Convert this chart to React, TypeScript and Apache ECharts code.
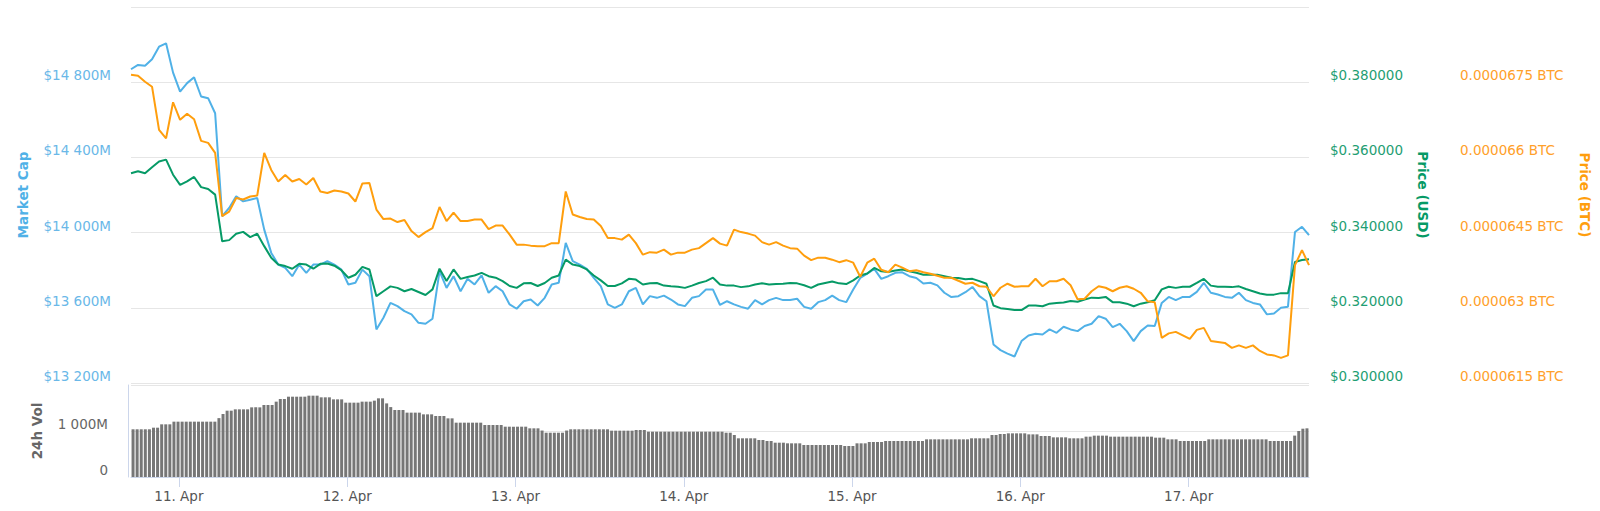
import React, { useEffect, useRef } from "react";
import * as echarts from "echarts";

// ---- time frame ----
const START = new Date(2019, 3, 10, 17, 10).getTime();
const HOUR = 3600 * 1000;
const VOL_STEP = 35 * 60 * 1000;
const END = START + 168 * HOUR;

const dayNumbers = [11, 12, 13, 14, 15, 16, 17];
const dayLabels = ["11. Apr", "12. Apr", "13. Apr", "14. Apr", "15. Apr", "16. Apr", "17. Apr"];

// ---- hourly series (10 Apr 17:10 -> 17 Apr 17:10) ----
// Market cap, millions USD
const marketCap = [
  14869, 14892, 14887, 14922, 14989, 15007, 14851, 14750, 14795, 14826, 14724, 14715, 14635,
  14087, 14131, 14193, 14166, 14175, 14184, 14016, 13892, 13830, 13812, 13768, 13830,
  13786, 13830, 13830, 13848, 13830, 13803, 13724, 13733, 13803, 13768,
  13485, 13547, 13626, 13609, 13582, 13565, 13520,
  13515,
  13542, 13795, 13706, 13768, 13688, 13754, 13724, 13772, 13680, 13715, 13688, 13618,
  13595, 13635, 13644, 13612, 13653, 13724, 13733, 13945, 13848, 13830,
  13807, 13759, 13715, 13618, 13600, 13618, 13688, 13706, 13618, 13662,
  13653, 13665, 13644, 13618, 13609, 13653, 13662, 13697, 13697, 13615,
  13635, 13618, 13605, 13595, 13641, 13618, 13641, 13653, 13641, 13641,
  13648, 13605, 13595, 13630, 13641, 13665, 13641, 13630, 13697, 13759,
  13782, 13807, 13754, 13768, 13786, 13789, 13768, 13759, 13729, 13733,
  13719, 13680, 13657, 13662, 13683, 13711, 13662, 13635, 13405, 13375,
  13356, 13341, 13423, 13453, 13462, 13458, 13485, 13467, 13499, 13485,
  13476, 13503, 13515, 13556, 13542, 13497, 13515, 13476, 13423, 13476,
  13506, 13503, 13626, 13658, 13641, 13658, 13658, 13685, 13733, 13680,
  13671, 13658, 13653, 13680, 13641, 13626, 13618, 13565, 13570, 13600,
  13606, 14003, 14031, 13987,
];

// Price in USD
const priceUsd = [
  0.3558, 0.3563, 0.3558, 0.3574, 0.3589, 0.3594, 0.3554, 0.3527, 0.3536, 0.3548, 0.3521, 0.3516, 0.3501,
  0.3377, 0.338, 0.3397, 0.3402, 0.3388, 0.3397, 0.3364, 0.3333, 0.3315, 0.3311, 0.3304, 0.3317,
  0.3315, 0.3304, 0.3317, 0.3318, 0.3312, 0.33, 0.328, 0.3288, 0.3309, 0.3302,
  0.3231, 0.3244, 0.3257, 0.3253, 0.3244, 0.325, 0.3242,
  0.3234,
  0.3249, 0.3304, 0.3271, 0.3302, 0.3277, 0.3282, 0.3286, 0.3293, 0.3284, 0.328, 0.3271, 0.3258,
  0.3253, 0.3265, 0.3266, 0.3258, 0.3266, 0.328, 0.3286, 0.3328, 0.3315, 0.3311,
  0.3302, 0.3286, 0.3273, 0.3258, 0.3258, 0.3265, 0.3277, 0.3275, 0.3262, 0.3265,
  0.3266, 0.3259, 0.3257, 0.3256, 0.3253, 0.3259, 0.3266, 0.3271, 0.328, 0.3262,
  0.3259, 0.3259, 0.3255, 0.3257, 0.3262, 0.3265, 0.3262, 0.3263, 0.3264, 0.3266,
  0.3265, 0.326, 0.3253, 0.3262, 0.3266, 0.327, 0.3265, 0.3263, 0.3273, 0.3286,
  0.3291, 0.3306, 0.3297, 0.3295, 0.3299, 0.3302, 0.3297, 0.3293, 0.3288, 0.3288,
  0.3288, 0.3284, 0.328, 0.3279, 0.3276, 0.3277, 0.3271, 0.3264, 0.3206, 0.3199,
  0.3197, 0.3194, 0.3194, 0.3206, 0.3206, 0.3204, 0.3211, 0.3213, 0.3214, 0.3218,
  0.3216, 0.3222, 0.3227, 0.3226, 0.3229, 0.3215, 0.3215, 0.3211, 0.3204, 0.3211,
  0.3215, 0.322, 0.3249, 0.3256, 0.3253, 0.3256, 0.3256, 0.3266, 0.3277, 0.3259,
  0.3256, 0.3256, 0.3255, 0.3257, 0.325, 0.3244, 0.3238, 0.3235, 0.3235, 0.3239,
  0.3239, 0.3322, 0.3327, 0.3329,
];

// Price in BTC, expressed in satoshi (1e-8 BTC)
const priceBtcSats = [
  6765, 6763, 6751, 6741, 6655, 6638, 6710, 6675, 6687, 6676, 6633, 6629, 6609,
  6483, 6492, 6519, 6516, 6522, 6524, 6609, 6575, 6552, 6565, 6552, 6557,
  6546, 6559, 6532, 6529, 6534, 6532, 6528, 6512, 6548, 6549,
  6496, 6477, 6478, 6471, 6475, 6453, 6441,
  6451,
  6459, 6501, 6473, 6490, 6473, 6473, 6476, 6476, 6457, 6464, 6464, 6446,
  6426, 6426, 6424, 6423, 6423, 6429, 6429, 6532, 6486, 6481,
  6477, 6476, 6463, 6439, 6439, 6436, 6446, 6429, 6406, 6411,
  6410, 6416, 6406, 6410, 6410, 6416, 6419, 6429, 6439, 6428,
  6424, 6456, 6451, 6448, 6444, 6431, 6426, 6431, 6424, 6419,
  6418, 6404, 6395, 6400, 6400, 6396, 6391, 6395, 6390, 6362,
  6390, 6398, 6376, 6371, 6386, 6380, 6373, 6375, 6371, 6368,
  6364, 6360, 6360, 6354, 6348, 6350, 6343, 6342, 6323, 6340,
  6348, 6342, 6343, 6343, 6358, 6343, 6353, 6353, 6358, 6345,
  6317, 6318, 6333, 6343, 6340, 6333, 6340, 6343, 6338, 6330,
  6313, 6311, 6240, 6249, 6252, 6245, 6238, 6256, 6260, 6234,
  6232, 6230, 6220, 6225, 6220, 6225, 6214, 6207, 6205, 6200,
  6205, 6385, 6415, 6385,
];

// 24h volume, millions USD, one bar every 35 minutes
const volume24h = [
  1037, 1037, 1037, 1037, 1037, 1072, 1072, 1145, 1145, 1145,
  1203, 1203, 1203, 1203, 1203, 1203, 1203, 1203, 1203, 1203, 1203,
  1280, 1370, 1442, 1442, 1471, 1471, 1471, 1471,
  1514, 1514, 1514, 1565, 1565, 1565, 1638, 1696, 1696,
  1746, 1746, 1746, 1746, 1746, 1768, 1768, 1768,
  1732, 1732, 1732, 1688, 1688, 1688, 1616, 1616, 1616, 1616,
  1638, 1638, 1638, 1660, 1710, 1710, 1600, 1520,
  1456, 1456, 1456, 1399, 1399, 1399, 1399, 1362, 1362, 1362,
  1326, 1326, 1326, 1275, 1275,
  1181, 1181, 1181, 1181, 1181, 1181, 1181,
  1130, 1130, 1130, 1130, 1130,
  1094, 1094, 1094, 1094, 1094, 1094, 1058, 1058, 1058,
  1010, 963, 963, 963, 963, 963, 1010,
  1037, 1037, 1037, 1037, 1037, 1037, 1037, 1037, 1037, 1037,
  1007, 1007, 1007, 1007, 1007, 1007, 1022, 1022, 1022,
  985, 985, 985, 985, 985, 985, 985, 985, 985, 985,
  985, 985, 985, 985, 985, 985, 985, 985, 985,
  963, 963, 913,
  841, 841, 841, 841, 841, 804, 804, 783, 783,
  746, 746, 746, 732, 732, 732, 732,
  696, 696, 696, 696, 696, 696, 696, 696, 696, 696,
  674, 674, 674, 732, 732, 732, 761, 761, 761, 761,
  783, 783, 783, 783, 783, 783, 783, 783, 783, 783,
  819, 819, 819, 819, 819, 819, 819, 819, 819, 819, 819,
  841, 841, 841, 841, 841, 913, 913, 935, 935,
  949, 949, 949, 949, 949, 927, 927, 927, 891, 891, 891,
  862, 862, 862, 862, 841, 841, 841, 841, 877, 877,
  899, 899, 899, 899,
  877, 877, 877, 877, 877, 877, 877, 877, 877, 877, 877,
  855, 855, 855, 819, 819, 819,
  783, 783, 783, 783, 783, 783, 783,
  819, 819, 819, 819, 819, 819, 819, 819, 819, 819, 819, 819, 819, 819, 819,
  783, 783, 783, 783, 783, 783,
  900, 1000, 1050, 1058,
];

// ---- axis ticks ----
const mcapTicks = { min: 13200, max: 15200, interval: 400 };
const usdTicks = { min: 0.3, max: 0.4, interval: 0.02 };
const btcTicks = { min: 6150, max: 6900, interval: 150 };
const volTicks = { min: 0, max: 2000, interval: 1000 };

const FONT = "DejaVu Sans";
const BLUE = "#50b1e7";
const GREEN = "#069a66";
const ORANGE = "#ff9e0d";

const spaced = (v: number) => String(Math.round(v)).replace(/\B(?=(\d{3})+(?!\d))/g, " ");

export default function App() {
  const ref = useRef<HTMLDivElement>(null);

  useEffect(() => {
    document.body.style.margin = "0";
    if (!ref.current) return;
    const chart = echarts.init(ref.current, undefined, { renderer: "svg" });

    const dayTicks = dayNumbers.map((d) => new Date(2019, 3, d).getTime());
    const hourly = (arr: number[]) => arr.map((v, i) => [START + i * HOUR, v]);
    const volData = volume24h.map((v, i) => [START + (i + 0.5) * VOL_STEP, v]);

    const labelBase = { fontFamily: FONT, fontSize: 13.5 };
    const nameBase = { fontFamily: FONT, fontSize: 13.5, fontWeight: "bold" as const };

    chart.setOption({
      animation: false,
      backgroundColor: "#ffffff",
      grid: [
        { left: 131, top: 7, width: 1178, height: 376 },
        { left: 131, top: 385, width: 1178, height: 92 },
      ],
      xAxis: [
        { type: "value", gridIndex: 0, min: START, max: END, show: false },
        {
          type: "value",
          gridIndex: 1,
          min: START,
          max: END,
          axisLine: { show: true, onZero: false, lineStyle: { color: "#ccd6eb", width: 1 } },
          axisTick: { show: true, customValues: dayTicks, length: 10, lineStyle: { color: "#ccd6eb" } },
          axisLabel: {
            ...labelBase,
            customValues: dayTicks,
            margin: 12,
            color: "#555555",
            formatter: (v: number) => {
              const i = dayTicks.indexOf(v);
              return i >= 0 ? dayLabels[i] : "";
            },
          },
          splitLine: { show: false },
        },
      ],
      yAxis: [
        {
          type: "value",
          gridIndex: 0,
          position: "left",
          ...mcapTicks,
          axisLine: { show: false },
          axisTick: { show: false },
          axisLabel: {
            ...labelBase,
            color: "#6ab8e8",
            margin: 20,
            verticalAlign: "bottom",
            showMaxLabel: false,
            formatter: (v: number) => `$${spaced(v)}M`,
          },
          splitLine: { show: true, lineStyle: { color: "#e6e6e6", width: 1 } },
          name: "Market Cap",
          nameLocation: "middle",
          nameGap: 101,
          nameTextStyle: { ...nameBase, color: BLUE },
        },
        {
          type: "value",
          gridIndex: 0,
          position: "right",
          ...usdTicks,
          axisLine: { show: false },
          axisTick: { show: false },
          axisLabel: {
            ...labelBase,
            color: "#1f9e73",
            margin: 21,
            verticalAlign: "bottom",
            showMaxLabel: false,
            formatter: (v: number) => `$${v.toFixed(6)}`,
          },
          splitLine: { show: false },
          name: "Price (USD)",
          nameLocation: "middle",
          nameRotate: -90,
          nameGap: 107,
          nameTextStyle: { ...nameBase, color: GREEN },
        },
        {
          type: "value",
          gridIndex: 0,
          position: "right",
          offset: 130,
          ...btcTicks,
          axisLine: { show: false },
          axisTick: { show: false },
          axisLabel: {
            ...labelBase,
            color: "#ffa02a",
            margin: 21,
            verticalAlign: "bottom",
            showMaxLabel: false,
            formatter: (v: number) => `${parseFloat((v / 1e8).toFixed(8)).toString()} BTC`,
          },
          splitLine: { show: false },
          name: "Price (BTC)",
          nameLocation: "middle",
          nameRotate: -90,
          nameGap: 139,
          nameTextStyle: { ...nameBase, color: ORANGE },
        },
        {
          type: "value",
          gridIndex: 1,
          position: "left",
          offset: 3,
          ...volTicks,
          axisLine: { show: true, lineStyle: { color: "#ccd6eb", width: 1 } },
          axisTick: { show: false },
          axisLabel: {
            ...labelBase,
            color: "#666666",
            margin: 20,
            verticalAlign: "bottom",
            showMaxLabel: false,
            formatter: (v: number) => (v === 0 ? "0" : `${spaced(v)}M`),
          },
          splitLine: { show: true, lineStyle: { color: "#e6e6e6", width: 1 } },
          name: "24h Vol",
          nameLocation: "middle",
          nameGap: 84,
          nameTextStyle: { ...nameBase, color: "#666666" },
        },
      ],
      series: [
        {
          name: "Market Cap",
          type: "line",
          xAxisIndex: 0,
          yAxisIndex: 0,
          data: hourly(marketCap),
          symbol: "none",
          lineStyle: { width: 2, color: BLUE },
          itemStyle: { color: BLUE },
        },
        {
          name: "Price (USD)",
          type: "line",
          xAxisIndex: 0,
          yAxisIndex: 1,
          data: hourly(priceUsd),
          symbol: "none",
          lineStyle: { width: 2, color: GREEN },
          itemStyle: { color: GREEN },
        },
        {
          name: "Price (BTC)",
          type: "line",
          xAxisIndex: 0,
          yAxisIndex: 2,
          data: hourly(priceBtcSats),
          symbol: "none",
          lineStyle: { width: 2, color: ORANGE },
          itemStyle: { color: ORANGE },
        },
        {
          name: "24h Vol",
          type: "bar",
          xAxisIndex: 1,
          yAxisIndex: 3,
          data: volData,
          barWidth: 3,
          itemStyle: { color: "#767676" },
        },
      ],
    });

    return () => chart.dispose();
  }, []);

  return <div ref={ref} style={{ width: 1600, height: 511 }} />;
}
